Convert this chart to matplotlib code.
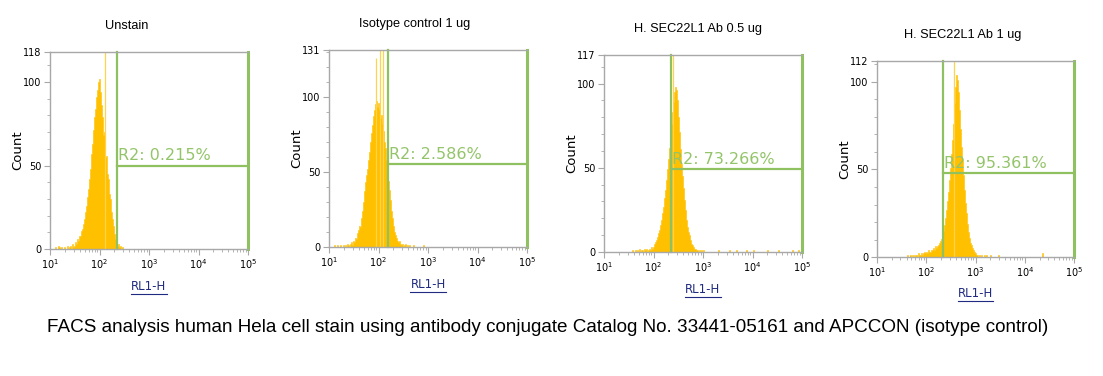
import numpy as np
import matplotlib
matplotlib.use("Agg")
from matplotlib import pyplot as plt
from matplotlib.ticker import LogLocator, MultipleLocator, NullFormatter

# channel grid: log10 RL1-H from 1 to 5, 0.02 decade per channel
step = 0.02
nbins = 200

titles = ["Unstain", "Isotype control 1 ug", "H. SEC22L1 Ab 0.5 ug", "H. SEC22L1 Ab 1 ug"]
ymax = [118, 131, 117, 112]
gate_x = [225, 156, 225, 219]
gate_y = [50, 55, 49, 48]
gate_pct = ["R2: 0.215%", "R2: 2.586%", "R2: 73.266%", "R2: 95.361%"]

# histogram counts, first channel at log10 value *_from
unstain_from = 1.10
unstain_counts = [1, 0, 0, 2, 1, 0, 1, 0, 0, 1, 0, 0, 2, 0, 1, 2, 0, 3, 1, 2,
                  4, 3, 6, 5, 8, 8, 11, 12, 15, 18, 22, 26, 31, 36, 42, 48, 57, 63, 71, 79,
                  84, 91, 95, 100, 102, 96, 94, 86, 79, 68, 70, 55, 56, 45, 42, 33, 30, 22, 18, 14,
                  9, 6, 4, 2, 3, 1, 2, 0, 1]
iso_from = 1.10
iso_counts = [1, 0, 0, 1, 0, 0, 1, 0, 0, 1, 0, 1, 0, 2, 1, 0, 2, 3, 1, 4,
              3, 6, 5, 9, 11, 14, 13, 19, 24, 30, 37, 43, 48, 52, 58, 63, 70, 76, 81, 87,
              91, 95, 97, 93, 96, 90, 91, 86, 88, 82, 77, 70, 66, 58, 51, 44, 38, 31, 24, 19,
              14, 10, 8, 6, 4, 3, 4, 2, 1, 2, 0, 1, 2, 0, 1, 0, 1]
ab05_from = 1.56
ab05_counts = [1, 0, 0, 1, 0, 1, 0, 2, 0, 1, 1, 0, 2, 1, 2, 0, 1, 2, 1, 3,
               2, 3, 4, 5, 6, 7, 9, 11, 13, 16, 19, 23, 27, 32, 37, 43, 49, 55, 62, 69,
               76, 83, 89, 95, 98, 96, 90, 80, 71, 61, 52, 45, 38, 31, 25, 19, 15, 12, 10, 7,
               5, 4, 3, 2, 2, 1, 1, 0, 1, 0, 1, 0, 1]
ab1_from = 1.60
ab1_counts = [1, 0, 0, 1, 0, 1, 0, 1, 0, 1, 1, 0, 2, 1, 1, 2, 1, 2, 3, 2,
              3, 2, 4, 3, 3, 4, 4, 5, 4, 6, 5, 6, 7, 8, 9, 10, 12, 15, 18, 22,
              27, 32, 37, 44, 51, 59, 67, 76, 88, 97, 104, 101, 94, 84, 73, 63, 56, 47, 38, 31,
              25, 19, 14, 11, 8, 7, 5, 4, 3, 2, 2, 1, 1, 0, 1, 0, 1, 0, 0, 1,
              0, 1]
all_from = [unstain_from, iso_from, ab05_from, ab1_from]
all_counts = [unstain_counts, iso_counts, ab05_counts, ab1_counts]

# scattered single events far out on the right (log10 value, count)
tail_x = [[], [2.70, 2.90], [3.30, 3.52, 3.66, 3.86, 4.02, 4.30, 4.52, 4.80, 4.92],
          [3.30, 3.46, 4.36]]
tail_c = [[], [1, 1], [1, 1, 1, 1, 1, 1, 1, 1, 1], [1, 1, 2]]

# thin tall spikes (log10 value, height)
spike_x = [[2.11], [1.95, 2.04, 2.09], [2.40], [2.57]]
spike_h = [[118], [126, 131, 131], [117], [112]]

# axes boxes in pixels: left, top, right, bottom
boxes = [(50, 52, 248, 249), (329, 50, 527, 247), (604, 55, 802, 252), (877, 61, 1074, 257)]
title_cx = [127, 415, 698, 963]

W, H = 1103, 376
orange = "#FFC000"
spike_c = "#FFD34D"
green = "#8FC160"
green_t = "#94C46A"
gray = "#A8A8A8"

fig = plt.figure(figsize=(W / 100, H / 100), dpi=100)
edges = 10 ** (1 + step * np.arange(nbins + 1))
xs = np.repeat(edges, 2)[1:-1]

xlabels = []
for i in range(4):
    l, t, r, b = boxes[i]
    ax = fig.add_axes([l / W, 1 - b / H, (r - l) / W, (b - t) / H])

    full = np.zeros(nbins)
    i0 = int(round((all_from[i] - 1) / step))
    full[i0:i0 + len(all_counts[i])] = all_counts[i]
    for x, c in zip(tail_x[i], tail_c[i]):
        full[int(round((x - 1) / step))] += c
    ax.fill_between(xs, np.repeat(full, 2), 0, color=orange, lw=0.4, edgecolor=orange)
    ax.vlines(10 ** np.array(spike_x[i]), 0, spike_h[i], color=spike_c, lw=0.9)

    ax.set_xscale("log")
    ax.set_xlim(10, 1e5)
    ax.set_ylim(0, ymax[i])

    # gate R2
    gx, gy = gate_x[i], gate_y[i]
    ax.plot([gx, gx], [0, ymax[i]], color=green, lw=1.6, clip_on=False)
    ax.plot([gx, 1e5], [gy, gy], color=green, lw=1.6, clip_on=False)
    ax.plot([1e5, 1e5], [0, ymax[i]], color=green, lw=2.2, clip_on=False)
    ax.annotate(gate_pct[i], (gx, gy), xytext=(0.5, 1.5), textcoords="offset points",
                ha="left", va="bottom", color=green_t, fontsize=11.5, family="DejaVu Sans")

    for s in ["left", "top", "bottom"]:
        ax.spines[s].set_color(gray)
        ax.spines[s].set_linewidth(1.0)
    ax.spines["right"].set_visible(False)

    ax.set_yticks([0, 50, 100, ymax[i]])
    ax.yaxis.set_minor_locator(MultipleLocator(10))
    ax.xaxis.set_major_locator(LogLocator(base=10, numticks=10))
    ax.xaxis.set_minor_locator(LogLocator(base=10, subs=np.arange(2, 10), numticks=20))
    ax.xaxis.set_minor_formatter(NullFormatter())
    ax.tick_params(which="major", direction="out", length=4, width=0.8, color=gray,
                   labelsize=7, pad=2)
    ax.tick_params(which="minor", direction="out", length=2, width=0.6, color=gray)
    ax.tick_params(axis="y", which="minor", length=2.5)

    ax.text(-0.165, 0.5, "Count", transform=ax.transAxes, rotation=90, ha="center",
            va="center", fontsize=9.5)
    xl = ax.text(0.5, -0.155, "RL1-H", transform=ax.transAxes, ha="center", va="top",
                 fontsize=8.5, color="#1F2A80")
    xlabels.append(xl)
    fig.text(title_cx[i] / W, 1 - (t - 26) / H, titles[i], ha="center", va="center",
             fontsize=9.2, family="Liberation Sans")

fig.text(548 / W, 1 - 328 / H,
         "FACS analysis human Hela cell stain using antibody conjugate Catalog No. 33441-05161 and APCCON (isotype control)",
         ha="center", va="center", fontsize=13.6, family="Liberation Sans")

# underline the RL1-H labels
fig.canvas.draw()
rend = fig.canvas.get_renderer()
for xl in xlabels:
    bb = xl.get_window_extent(rend)
    y = (bb.y0 - 1) / H
    fig.add_artist(plt.Line2D([bb.x0 / W, bb.x1 / W], [y, y], color="#1F2A80", lw=0.8))

fig.savefig("out.png", dpi=100)
